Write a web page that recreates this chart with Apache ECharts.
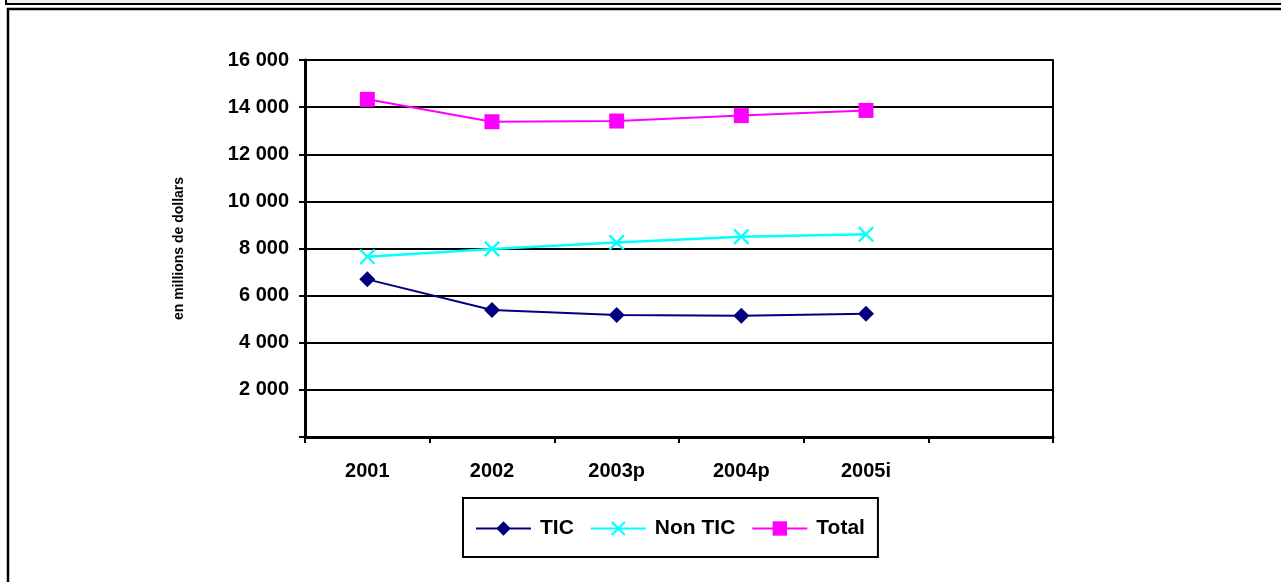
<!DOCTYPE html>
<html>
<head>
<meta charset="utf-8">
<script src="https://cdn.jsdelivr.net/npm/echarts@6/dist/echarts.min.js"></script>
<style>
  html, body { margin: 0; padding: 0; background: #fff; }
  #chart { width: 1281px; height: 582px; }
</style>
</head>
<body>
<div id="chart"></div>
<script>
// catégories (la 6e reste vide, comme dans l'original)
const years = ['2001', '2002', '2003p', '2004p', '2005i', ''];
const ticValues = [6690, 5390, 5180, 5150, 5235];
const nonTicValues = [7650, 7980, 8250, 8500, 8600];
const totalValues = [14330, 13380, 13410, 13640, 13860];
const yTicks = [0, 2000, 4000, 6000, 8000, 10000, 12000, 14000, 16000];

const font = '"Liberation Sans", Arial, sans-serif';
// croix "x" pour Non TIC
const crossPath = 'path://M0,1L1,0L5,4L9,0L10,1L6,5L10,9L9,10L5,6L1,10L0,9L4,5Z';

function fmt(v) {
  if (v === 0) return '';
  return String(v).replace(/\B(?=(\d{3})+(?!\d))/g, ' ');
}

const chart = echarts.init(document.getElementById('chart'));
chart.setOption({
  animation: false,
  backgroundColor: '#fff',
  graphic: [
    {
      type: 'rect',
      shape: { x: 6, y: -6, width: 1300, height: 10 },
      style: { fill: '#f0f0f0', stroke: '#000', lineWidth: 2 },
      silent: true
    },
    {
      type: 'rect',
      shape: { x: 8, y: 9, width: 1300, height: 600 },
      style: { fill: 'none', stroke: '#000', lineWidth: 2.5 },
      silent: true
    }
  ],
  grid: { left: 305, right: 228, top: 60, bottom: 145 },
  legend: {
    left: 463,
    top: 498,
    padding: [20, 13, 18, 12],
    borderColor: '#000',
    borderWidth: 2,
    itemWidth: 55,
    itemHeight: 18,
    itemGap: 16,
    textStyle: { fontFamily: font, fontWeight: 'bold', fontSize: 21, color: '#000', padding: [0, 0, 0, 4], lineHeight: 18 },
    data: ['TIC', 'Non TIC', 'Total']
  },
  xAxis: {
    type: 'category',
    data: years,
    axisLine: { lineStyle: { color: '#000', width: 3 } },
    axisTick: { show: true, length: 6, lineStyle: { color: '#000', width: 2 } },
    axisLabel: { interval: 0, margin: 24, color: '#000', fontFamily: font, fontWeight: 'bold', fontSize: 20 },
    splitLine: { show: false }
  },
  yAxis: [
    {
      type: 'value',
      min: 0,
      max: 16000,
      interval: 2000,
      name: 'en millions de dollars',
      nameLocation: 'middle',
      nameRotate: 90,
      nameGap: 119,
      nameTextStyle: { fontFamily: font, fontWeight: 'bold', fontSize: 14, color: '#000' },
      axisLine: { show: true, lineStyle: { color: '#000', width: 3 } },
      axisTick: { show: true, length: 6, lineStyle: { color: '#000', width: 2 } },
      axisLabel: { margin: 16, color: '#000', fontFamily: font, fontWeight: 'bold', fontSize: 20, formatter: fmt },
      splitLine: { lineStyle: { color: '#000', width: 2 } }
    },
    {
      type: 'value',
      position: 'right',
      min: 0,
      max: 16000,
      interval: 2000,
      axisLine: { show: true, lineStyle: { color: '#000', width: 2 } },
      axisTick: { show: false },
      axisLabel: { show: false },
      splitLine: { show: false }
    }
  ],
  series: [
    {
      name: 'TIC',
      type: 'line',
      data: ticValues,
      symbol: 'diamond',
      symbolSize: 16,
      lineStyle: { color: '#000080', width: 2 },
      itemStyle: { color: '#000080' }
    },
    {
      name: 'Non TIC',
      type: 'line',
      data: nonTicValues,
      symbol: crossPath,
      symbolSize: 16,
      lineStyle: { color: '#00ffff', width: 2.5 },
      itemStyle: { color: '#00ffff' }
    },
    {
      name: 'Total',
      type: 'line',
      data: totalValues,
      symbol: 'rect',
      symbolSize: 15,
      lineStyle: { color: '#ff00ff', width: 2 },
      itemStyle: { color: '#ff00ff' }
    }
  ]
});
</script>
</body>
</html>
